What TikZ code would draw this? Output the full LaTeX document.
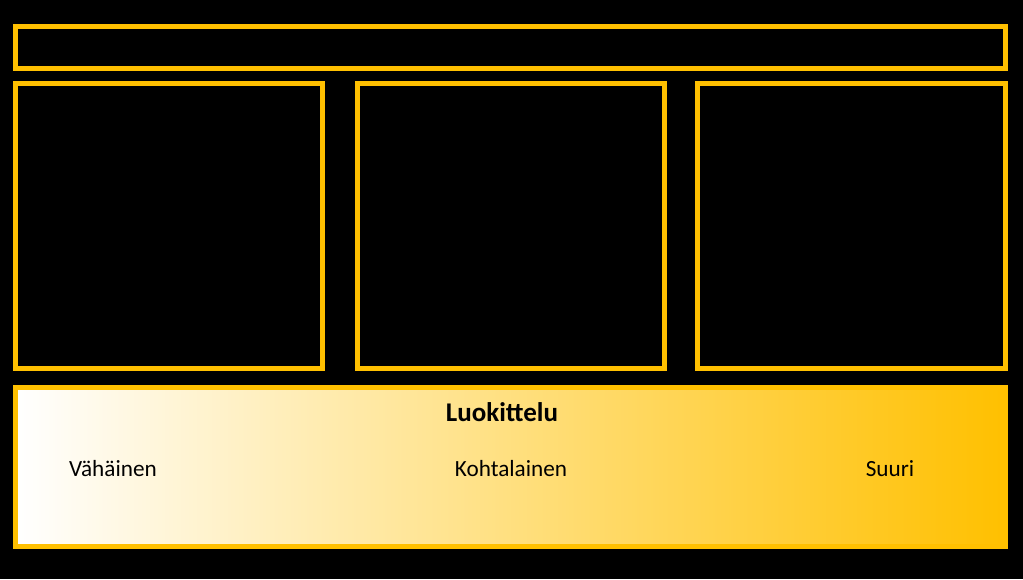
\documentclass[tikz,border=0pt]{standalone}
\usepackage{fontspec}
\setmainfont{Carlito}
\usetikzlibrary{positioning}
\definecolor{kulta}{RGB}{255,192,0}

\begin{document}
\begin{tikzpicture}[x=1pt,y=-1pt,
		kehys/.style={draw=kulta,line width=5pt,anchor=north west,inner sep=0pt,outer sep=0pt},
		teksti/.style={font=\fontsize{23.2}{28}\selectfont,text=black,anchor=base}]
		\fill[black] (0,0) rectangle (1023,579);
		\useasboundingbox (0,0) rectangle (1023,579);
		% ylapalkki
		\node[kehys,minimum width=990.3pt,minimum height=42.3pt] (palkki) at (15.5,26) {};
		% kolme laatikkoa
		\node[kehys,minimum width=307pt,minimum height=285pt] (laatikko1) at (15.5,83.5) {};
		\node[kehys,minimum width=307.3pt,minimum height=285pt] (laatikko2) at (357.5,83.5) {};
		\node[kehys,minimum width=308.3pt,minimum height=285pt] (laatikko3) at (697.5,83.5) {};
		% luokittelu
		\node[kehys,left color=white,right color=kulta,minimum width=990.3pt,minimum height=159pt] (asteikko) at (15.5,387.5) {};
		\node[teksti,font=\fontsize{27}{32}\selectfont\bfseries] (otsikko) at (502,421) {Luokittelu};
		\node[teksti] (vahainen) at (113,476) {Vähäinen};
		\node[teksti] (kohtalainen) at (511,476) {Kohtalainen};
		\node[teksti] (suuri) at (890,476) {Suuri};
\end{tikzpicture}
\end{document}
